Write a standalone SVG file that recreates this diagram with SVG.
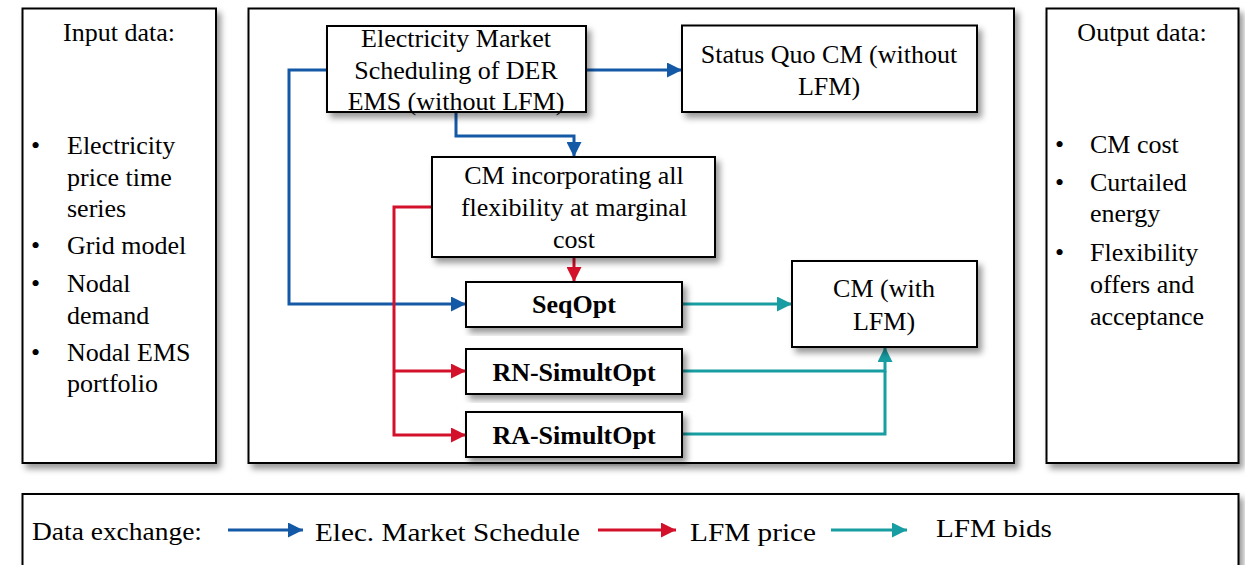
<svg xmlns="http://www.w3.org/2000/svg" width="1245" height="565" viewBox="0 0 1245 565">
<defs>
<style>
.box{fill:#fff;stroke:#000;stroke-width:2;filter:url(#sh)}
.t{font-family:"Liberation Serif","Times New Roman",serif;font-size:26px;fill:#000}
.c{text-anchor:middle}
.b{font-weight:bold}
.lg{font-family:"Liberation Serif","Times New Roman",serif;font-size:25px;fill:#000}
.con{fill:none;stroke-width:3;stroke-linejoin:miter}
.blue{stroke:#1459A6}
.red{stroke:#D4112B}
.teal{stroke:#179DA2}
</style>
<filter id="sh" x="-10%" y="-10%" width="130%" height="130%">
<feDropShadow dx="4" dy="5" stdDeviation="3" flood-color="#000" flood-opacity="0.4"/>
</filter>
<marker id="ab" viewBox="0 0 16 16" refX="16" refY="8" markerWidth="16" markerHeight="15" markerUnits="userSpaceOnUse" orient="auto"><path d="M0,0 L16,8 L0,16 z" fill="#1459A6"/></marker>
<marker id="ar" viewBox="0 0 16 16" refX="16" refY="8" markerWidth="16" markerHeight="15" markerUnits="userSpaceOnUse" orient="auto"><path d="M0,0 L16,8 L0,16 z" fill="#D4112B"/></marker>
<marker id="at" viewBox="0 0 16 16" refX="16" refY="8" markerWidth="16" markerHeight="15" markerUnits="userSpaceOnUse" orient="auto"><path d="M0,0 L16,8 L0,16 z" fill="#179DA2"/></marker>
</defs>
<rect width="1245" height="565" fill="#fff"/>

<g id="input-box">
<rect class="box" x="22.5" y="8.5" width="193.5" height="454.5"/>
<text class="t c" x="119" y="41">Input data:</text>
<text class="t" x="31" y="154">•</text><text class="t" x="67" y="154">Electricity</text>
<text class="t" x="67" y="186">price time</text>
<text class="t" x="67" y="217">series</text>
<text class="t" x="31" y="254">•</text><text class="t" x="67" y="254">Grid model</text>
<text class="t" x="31" y="292">•</text><text class="t" x="67" y="292">Nodal</text>
<text class="t" x="67" y="324">demand</text>
<text class="t" x="31" y="361">•</text><text class="t" x="67" y="361">Nodal EMS</text>
<text class="t" x="67" y="392">portfolio</text>
</g>

<g id="main-box">
<rect class="box" x="248.5" y="8.5" width="765.5" height="454.5"/>
</g>

<g id="output-box">
<rect class="box" x="1046.5" y="8.5" width="192" height="454.5"/>
<text class="t c" x="1142" y="41">Output data:</text>
<text class="t" x="1055" y="153">•</text><text class="t" x="1090" y="153">CM cost</text>
<text class="t" x="1055" y="191">•</text><text class="t" x="1090" y="191">Curtailed</text>
<text class="t" x="1090" y="222">energy</text>
<text class="t" x="1055" y="261">•</text><text class="t" x="1090" y="261">Flexibility</text>
<text class="t" x="1090" y="293">offers and</text>
<text class="t" x="1090" y="325">acceptance</text>
</g>

<g id="connectors">
<path class="con blue" d="M327,70 H289 V304 H466" marker-end="url(#ab)"/>
<path class="con blue" d="M586,70 H682" marker-end="url(#ab)"/>
<path class="con blue" d="M456,112 V136 H574 V157" marker-end="url(#ab)"/>
<path class="con red" d="M432,207 H394 V435 H466" marker-end="url(#ar)"/>
<path class="con red" d="M394,371 H466" marker-end="url(#ar)"/>
<path class="con red" d="M574,257 V282" marker-end="url(#ar)"/>
<path class="con teal" d="M682,304 H792" marker-end="url(#at)"/>
<path class="con teal" d="M682,371 H885 V347" marker-end="url(#at)"/>
<path class="con teal" d="M682,434 H885 V371"/>
</g>

<g id="em-scheduling">
<rect class="box" x="327" y="26" width="259" height="86"/>
<text class="t c" x="456" y="47">Electricity Market</text>
<text class="t c" x="456" y="79">Scheduling of DER</text>
<text class="t c" x="456" y="110">EMS (without LFM)</text>
</g>

<g id="status-quo">
<rect class="box" x="682" y="25.5" width="295" height="86.5"/>
<text class="t c" x="829" y="63">Status Quo CM (without</text>
<text class="t c" x="829" y="95">LFM)</text>
</g>

<g id="cm-all-flex">
<rect class="box" x="432" y="157" width="283" height="100"/>
<text class="t c" x="574" y="184">CM incorporating all</text>
<text class="t c" x="574" y="216">flexibility at marginal</text>
<text class="t c" x="574" y="248">cost</text>
</g>

<g id="seqopt">
<rect class="box" x="466" y="282" width="216" height="45"/>
<text class="t c b" x="574" y="313">SeqOpt</text>
</g>

<g id="rn-simultopt">
<rect class="box" x="466" y="349" width="216" height="45"/>
<text class="t c b" x="574" y="381">RN-SimultOpt</text>
</g>

<g id="ra-simultopt">
<rect class="box" x="466" y="412" width="216" height="45"/>
<text class="t c b" x="574" y="444">RA-SimultOpt</text>
</g>

<g id="cm-with-lfm">
<rect class="box" x="792" y="261" width="185" height="86"/>
<text class="t c" x="884" y="297">CM (with</text>
<text class="t c" x="884" y="330">LFM)</text>
</g>

<g id="legend">
<rect class="box" x="22.5" y="494" width="1216" height="100"/>
<text class="lg" x="32" y="540" textLength="170" lengthAdjust="spacingAndGlyphs">Data exchange:</text>
<path class="con blue" d="M228,530 H303" marker-end="url(#ab)"/>
<text class="lg" x="315" y="541" textLength="265" lengthAdjust="spacingAndGlyphs">Elec. Market Schedule</text>
<path class="con red" d="M598,530 H676" marker-end="url(#ar)"/>
<text class="lg" x="690" y="541" textLength="126" lengthAdjust="spacingAndGlyphs">LFM price</text>
<path class="con teal" d="M831,530 H907" marker-end="url(#at)"/>
<text class="lg" x="936" y="537" textLength="116" lengthAdjust="spacingAndGlyphs">LFM bids</text>
</g>
</svg>
